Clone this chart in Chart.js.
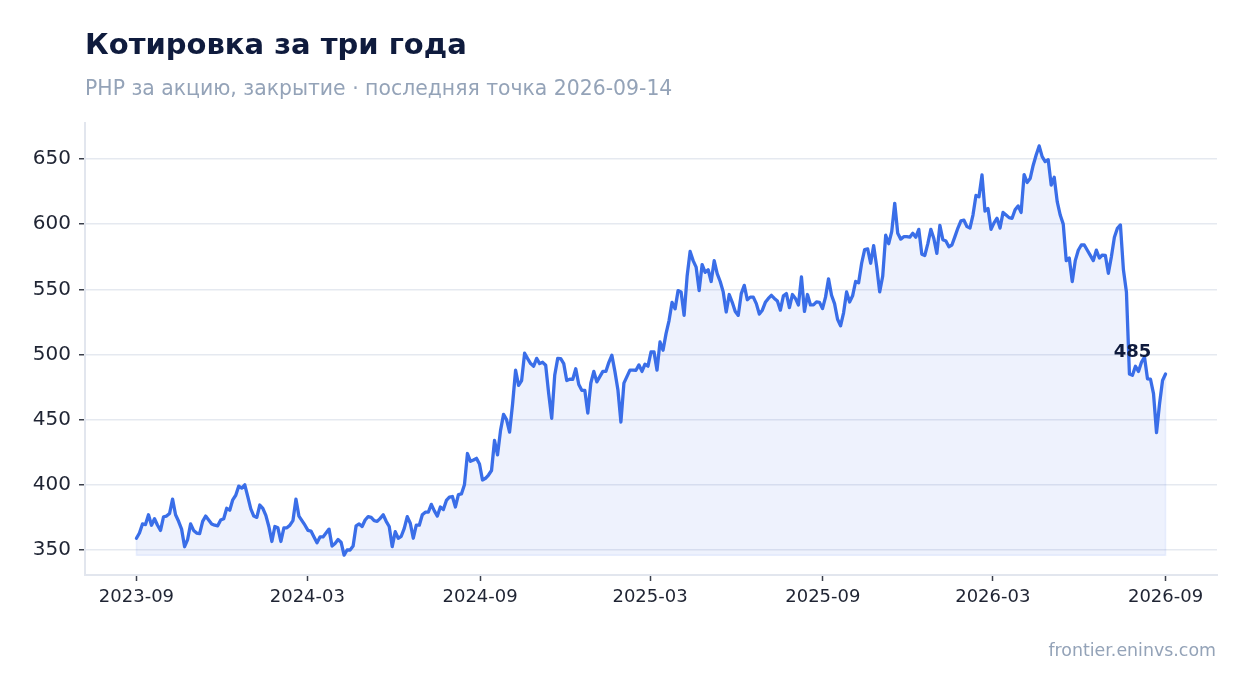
<!DOCTYPE html>
<html>
<head>
<meta charset="utf-8">
<script src="https://cdn.jsdelivr.net/npm/chart.js@4.4.1/dist/chart.umd.min.js"></script>
<style>
  html, body { margin: 0; padding: 0; background: #ffffff; }
  #wrap { position: relative; width: 1247px; height: 693px; overflow: hidden; font-family: "DejaVu Sans", sans-serif; }
  #title { position: absolute; left: 85px; top: 30px; font-size: 29px; font-weight: bold; color: #0f1b3d; line-height: 1; white-space: nowrap; }
  #subtitle { position: absolute; left: 85px; top: 78px; font-size: 20.4px; color: #94a3b8; line-height: 1; white-space: nowrap; }
  #footer { position: absolute; right: 31px; top: 642px; font-size: 17.4px; color: #94a3b8; line-height: 1; white-space: nowrap; }
  canvas { position: absolute; left: 0; top: 0; }
</style>
</head>
<body>
<div id="wrap">
  <canvas id="c" width="1247" height="693"></canvas>
  <div id="title">Котировка за три года</div>
  <div id="subtitle">РНР за акцию, закрытие · последняя точка 2026-09-14</div>
  <div id="footer">frontier.eninvs.com</div>
</div>
<script>
// ---- data ----
const startDate = '2023-09-14';
const endDate = '2026-09-14';
const tickLabels = ['2023-09', '2024-03', '2024-09', '2025-03', '2025-09', '2026-03', '2026-09'];
const yTicks = [350, 400, 450, 500, 550, 600, 650];

const prices2023 = [359,363,370,369.5,377,369,374,369,365,375.5,376,378,389,377,372,366,352.5,358,370,365,363,362.5,372,376,373,370,369,368.5,373,374,382,380.5,388.5,392,399,397.5,400,391,381.5,376,375,384.5,382,376.5,368,356.5,368,367,356.5,367,367,369,372.5,389,376,372.5,369,365,364.5,360];
const prices2024a = [355.5,360,360,363,366,353,355,358,356,346,350,350,353,368.5,370,368,373,375.6,375,372.5,372,374.3,377,372,368,352.6,364,359,360.5,366.6,375.6,370.5,359,369,369,377,379,379,385,380,376,383,381,388,390.5,391,383,392.5,393,400,424,418,419,420.3,416,403.7,405,407.5];
const prices2024b = [411,434,423,441.8,454,450,440.5,462,487.9,476.3,480,501,496.8,493,491,497,493,494,491.7,470,451,484,497,496.8,493,480,481,481,489,477,472.5,472.5,455,478,487,479,483,487,487,494,499.4,487,473,448.2,478,483,488,488,487.9,492,487,492.5,491,501.9,502,488,509.6,503.2,516,526,540,535];
const prices2025a = [549,548,530,560,579,572,567,549,569,563,565,556,572,562,556,548,532.6,546,540,533,530,546.7,553,542,544,544,539,531,534,540,543,545.4,543,541,534,545,546.7,536,546,543,538,559.5,533,546,538,538,540.3,540,535.2,544,558,545.4,539,527,522,532,548,540.3,545,556,555,570];
const prices2025b = [580.5,581,570,583.5,567.4,548,560,591.5,585,594.2,616,593,588.5,590.4,590.4,590,593,590,596,577,576,585,596,589,577.6,599,588,587,582.7,584,590.4,597,602.5,603,598.1,597,607,622,621,637.7,610,612,596,601,604.5,597,609,607,605,604.5,611,614,609,638,632,635,645,653,660,651.8,648];
const prices2026a = [649.5,630,636,617.3,607,600,572,574,555.9,572,580,584,584,580,576,572,580,574,576.3,576,562.3,575,590,596.8,599.4,565,548];
const prices2026b = [485,484,491,487,494,498,481.3,481,470,440,462,480,485];

const prices = [].concat(prices2023, prices2024a, prices2024b, prices2025a, prices2025b, prices2026a, prices2026b);

// ---- derived ----
const DAY = 86400000;
function dayOf(s) { const p = s.split('-').map(Number); return Date.UTC(p[0], p[1] - 1, p[2] || 1) / DAY; }
const d0 = dayOf(startDate);
const totalDays = dayOf(endDate) - d0;
const tickDays = tickLabels.map(l => dayOf(l + '-14') - d0);
const points = prices.map((v, i) => ({ x: i * totalDays / (prices.length - 1), y: v }));
const baseValue = Math.min.apply(null, prices);
const lastIdx = prices.length - 1;
const outline = [
  { x: 0, y: prices[0] }, { x: 0, y: baseValue },
  { x: totalDays, y: baseValue }, { x: totalDays, y: prices[lastIdx] }
];
const xPad = totalDays * 0.05;

Chart.defaults.font.family = '"DejaVu Sans", sans-serif';

const lastLabel = {
  id: 'lastLabel',
  afterDatasetsDraw(chart) {
    const meta = chart.getDatasetMeta(1);
    const pt = meta.data[lastIdx];
    if (!pt) return;
    const ctx = chart.ctx;
    ctx.save();
    ctx.font = 'bold 18px "DejaVu Sans", sans-serif';
    ctx.fillStyle = '#0f1b3d';
    ctx.textAlign = 'center';
    ctx.textBaseline = 'middle';
    ctx.fillText(String(prices[lastIdx]), pt.x - 33, pt.y - 22);
    ctx.restore();
  }
};

new Chart(document.getElementById('c'), {
  type: 'scatter',
  data: {
    datasets: [
      {
        data: outline,
        showLine: true,
        borderColor: 'rgba(58,110,232,0.10)',
        borderWidth: 1.5,
        pointRadius: 0,
        fill: false,
        tension: 0
      },
      {
        data: points,
        showLine: true,
        borderColor: '#3a6ee8',
        borderWidth: 3.3,
        borderJoinStyle: 'round',
        borderCapStyle: 'round',
        pointRadius: 0,
        tension: 0,
        fill: { value: baseValue },
        backgroundColor: 'rgba(58,110,232,0.085)'
      }
    ]
  },
  options: {
    responsive: false,
    animation: false,
    events: [],
    layout: { padding: { left: 0, top: 123, right: 30, bottom: 0 } },
    plugins: { legend: { display: false }, tooltip: { enabled: false } },
    scales: {
      x: {
        type: 'linear',
        min: -xPad,
        max: totalDays + xPad,
        afterBuildTicks(s) { s.ticks = tickDays.map(v => ({ value: v })); },
        afterFit(s) { s.height = 118; },
        ticks: {
          callback: (v, i) => tickLabels[i],
          font: { size: 18 },
          color: '#1f2433',
          padding: 6,
          maxRotation: 0,
          autoSkip: false
        },
        grid: { drawOnChartArea: false, drawTicks: true, tickLength: 6, tickColor: '#3a3f4b', tickWidth: 1.5 },
        border: { color: '#e2e6ee', width: 2 }
      },
      y: {
        min: 330.8,
        max: 677.6,
        afterBuildTicks(s) { s.ticks = yTicks.map(v => ({ value: v })); },
        afterFit(s) { s.width = 85; },
        ticks: { font: { size: 20 }, color: '#1f2433', padding: 8 },
        grid: { color: '#e5e9f0', lineWidth: 1.5, tickLength: 6, tickColor: '#3a3f4b', tickWidth: 1.5 },
        border: { color: '#e2e6ee', width: 2 }
      }
    }
  },
  plugins: [lastLabel]
});
</script>
</body>
</html>
